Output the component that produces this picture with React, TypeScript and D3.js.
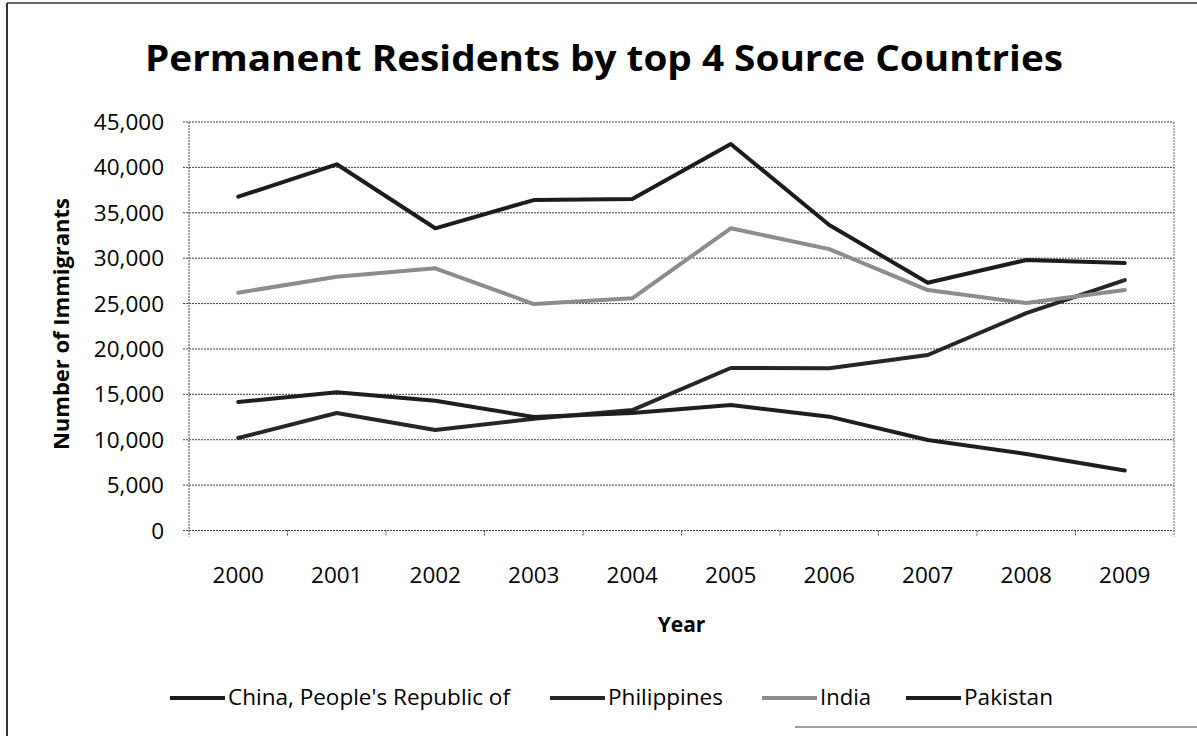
import React from "react";
import * as d3 from "d3";

const years = ["2000", "2001", "2002", "2003", "2004", "2005", "2006", "2007", "2008", "2009"];
const china = [36770, 40340, 33290, 36400, 36520, 42580, 33650, 27300, 29800, 29470];
const philippines = [10190, 12940, 11070, 12300, 13270, 17900, 17870, 19330, 23950, 27590];
const india = [26200, 27960, 28880, 24950, 25580, 33290, 31000, 26490, 25060, 26490];
const pakistan = [14150, 15220, 14300, 12500, 12940, 13830, 12540, 9970, 8430, 6600];
const yTicks = [0, 5000, 10000, 15000, 20000, 25000, 30000, 35000, 40000, 45000];

const seriesNames = ["China, People's Republic of", "Philippines", "India", "Pakistan"];
const seriesValues = [china, philippines, india, pakistan];
const seriesColors = ["#1c1c1c", "#262626", "#8c8c8c", "#1e1e1e"];

const W = 1197;
const H = 736;
const left = 189;
const right = 1174;
const top = 122;
const bottom = 530.5;
const FONT = "'Open Sans', Lato, sans-serif";

export default function App() {
  const x = d3.scaleBand().domain(years).range([left, right]).padding(0);
  const y = d3.scaleLinear().domain([0, 45000]).range([bottom, top]);
  const fmt = d3.format(",");
  const line = d3
    .line<number>()
    .x((_, i) => (x(years[i]) as number) + x.bandwidth() / 2)
    .y((d) => y(d));

  const legendX = [170, 550, 762, 906];
  const legendTextLen = [282, 115, 51, 89];

  return (
    <svg
      width={W}
      height={H}
      style={{ position: "absolute", left: 0, top: 0, background: "#fff" }}
      fontFamily={FONT}
    >
      <rect x={0} y={0} width={W} height={H} fill="#fff" />
      {/* outer border */}
      <line x1={7} y1={3} x2={W} y2={3} stroke="#333" strokeWidth={1.5} />
      <line x1={7} y1={3} x2={7} y2={H} stroke="#333" strokeWidth={2} />
      <line x1={795} y1={727} x2={W} y2={727} stroke="#444" strokeWidth={1.2} />

      {/* title */}
      <text
        x={145}
        y={71}
        fontSize={36}
        fontWeight="bold"
        fill="#000"
        textLength={918}
        lengthAdjust="spacingAndGlyphs"
      >
        Permanent Residents by top 4 Source Countries
      </text>

      {/* gridlines */}
      {yTicks.map((t) => (
        <g key={t}>
          <line
            x1={left - 6}
            x2={right}
            y1={y(t)}
            y2={y(t)}
            stroke="#444"
            strokeWidth={1}
            strokeDasharray="2,1"
          />
          <text x={164} y={y(t) + 8} textAnchor="end" fontSize={22.5} fill="#000">
            {fmt(t)}
          </text>
        </g>
      ))}
      {/* right edge of plot */}
      <line x1={right} x2={right} y1={top} y2={bottom + 6} stroke="#666" strokeWidth={1} strokeDasharray="2,1" />
      {/* y axis */}
      <line x1={left} x2={left} y1={top} y2={bottom + 6} stroke="#444" strokeWidth={1} strokeDasharray="2,1" />
      {/* x ticks */}
      {years.map((yr, i) => (
        <g key={yr}>
          {i > 0 && (
            <line
              x1={x(yr) as number}
              x2={x(yr) as number}
              y1={bottom}
              y2={bottom + 6}
              stroke="#444"
              strokeWidth={1}
              strokeDasharray="2,1"
            />
          )}
          <text
            x={(x(yr) as number) + x.bandwidth() / 2}
            y={583}
            textAnchor="middle"
            fontSize={22.5}
            fill="#000"
          >
            {yr}
          </text>
        </g>
      ))}

      {/* axis titles */}
      <text x={681.5} y={632} textAnchor="middle" fontSize={21} fontWeight="bold" fill="#000">
        Year
      </text>
      <text
        transform={`translate(69, 324) rotate(-90)`}
        textAnchor="middle"
        fontSize={21}
        fontWeight="bold"
        fill="#000"
        textLength={252}
        lengthAdjust="spacingAndGlyphs"
      >
        Number of Immigrants
      </text>

      {/* series */}
      {seriesValues.map((vals, si) => (
        <path
          key={si}
          d={line(vals) as string}
          fill="none"
          stroke={seriesColors[si]}
          strokeWidth={4}
          strokeLinejoin="round"
          strokeLinecap="round"
        />
      ))}

      {/* legend */}
      {seriesNames.map((name, si) => (
        <g key={name}>
          <line
            x1={legendX[si]}
            x2={legendX[si] + 55}
            y1={698}
            y2={698}
            stroke={seriesColors[si]}
            strokeWidth={4}
          />
          <text
            x={legendX[si] + 58}
            y={705}
            fontSize={21}
            fill="#000"
            textLength={legendTextLen[si]}
            lengthAdjust="spacingAndGlyphs"
          >
            {name}
          </text>
        </g>
      ))}
    </svg>
  );
}
